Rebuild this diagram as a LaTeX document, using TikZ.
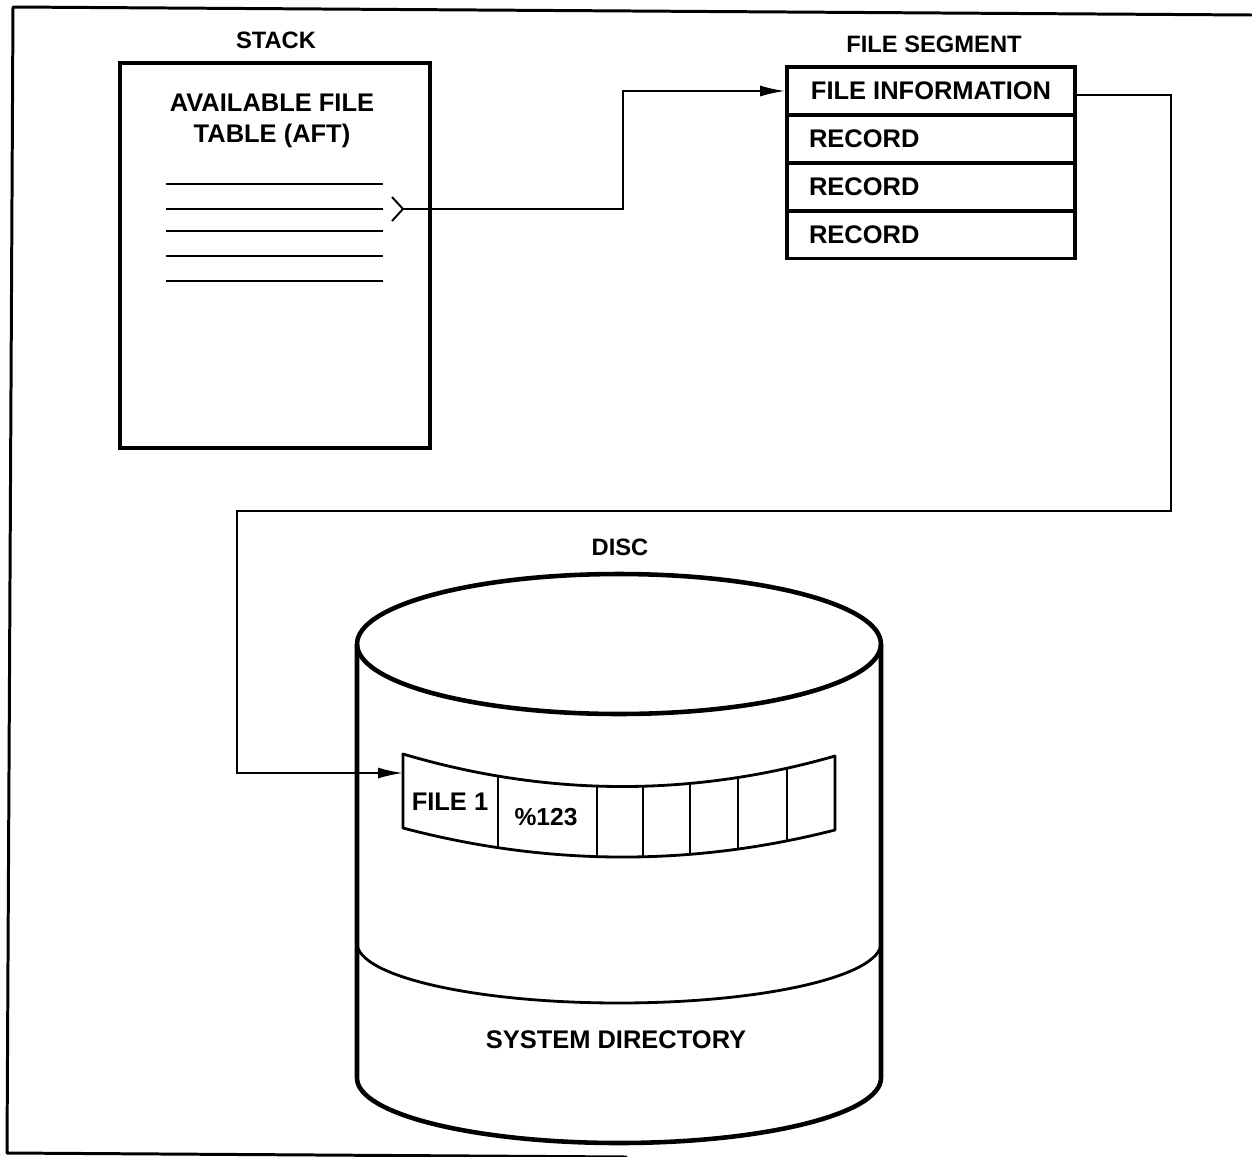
\documentclass[tikz,border=0pt]{standalone}
\usepackage{fontspec}
\setmainfont{Liberation Sans}
\usetikzlibrary{arrows.meta,calc}
\begin{document}
\begin{tikzpicture}[x=0.02cm,y=-0.02cm,
  lbl/.style={font=\fontsize{13.5}{15}\selectfont\bfseries, inner sep=0},
  boxtxt/.style={font=\fontsize{14.5}{16}\selectfont\bfseries, inner sep=0},
  frameline/.style={line width=1.7pt, line join=round},
  stackbox/.style={draw, line width=2.5pt, minimum width=6.2cm, minimum height=7.7cm, inner sep=0},
  segrow/.style={draw, line width=2.2pt, minimum width=5.76cm, minimum height=0.96cm, inner sep=0,
     font=\fontsize{14.5}{16}\selectfont\bfseries},
  conn/.style={line width=1.1pt},
  arr/.style={conn, -{Latex[length=0.5cm,width=0.22cm]}},
  aftline/.style={line width=1.4pt},
  cyl/.style={line width=2.6pt, line join=round},
  bandline/.style={line width=1.6pt, line join=round}
]
\useasboundingbox (0,0) rectangle (1252,1157);

% outer frame
\draw[frameline] (1252,15) -- (13,7) -- (7,1153) -- (627,1157);

% stack
\node[lbl] (stacklbl) at (276,40) {STACK};
\node[stackbox] (stack) at (275,255.5) {};
\node[boxtxt, align=center, font=\fontsize{14.5}{18}\selectfont\bfseries] (aft) at (272,121) {AVAILABLE FILE\\TABLE (AFT)};
\foreach \yy in {184,209,231,256,281} \draw[aftline] (166,\yy) -- (383,\yy);
\coordinate (aftp) at (403,209);
\draw[conn, line join=miter] (392,197) -- (aftp) -- (392,221);

% file segment
\node[lbl] (seglbl) at (934,44) {FILE SEGMENT};
\node[segrow, align=center] (fi) at (931,91) {FILE INFORMATION};
\node[segrow, align=left, text width=4.88cm] (r1) at (931,139) {RECORD};
\node[segrow, align=left, text width=4.88cm] (r2) at (931,187) {RECORD};
\node[segrow, align=left, text width=4.88cm] (r3) at (931,234.5) {RECORD};

% connector stack -> file segment
\coordinate (bend1) at (623,209);
\draw[arr] (aftp) -- (bend1) |- (fi.west);

% disc
\node[lbl] (disclbl) at (620,547) {DISC};
\draw[cyl] (619,644) ellipse [x radius=5.24cm, y radius=1.4cm];
\draw[cyl] (357,644) -- (357,1078)
   .. controls (357,1114) and (474.3,1143) .. (619,1143)
   .. controls (763.7,1143) and (881,1114) .. (881,1078) -- (881,644);
\draw[bandline] (357,943) .. controls (357,976.1) and (474.3,1003) .. (619,1003)
   .. controls (763.7,1003) and (881,976.1) .. (881,943);
\node[boxtxt] (sysdir) at (616,1040) {SYSTEM DIRECTORY};

% directory band
\draw[bandline] (403,754) .. controls (547,796.7) and (691,797.3) .. (835,756)
   -- (835,830) .. controls (691,866.7) and (547,866) .. (403,828) -- cycle;
\path (403,754) .. controls (547,796.7) and (691,797.3) .. (835,756)
   coordinate[pos=0.2199] (t1) coordinate[pos=0.449] (t2) coordinate[pos=0.5556] (t3)
   coordinate[pos=0.6644] (t4) coordinate[pos=0.7755] (t5) coordinate[pos=0.8889] (t6);
\path (403,828) .. controls (547,866) and (691,866.7) .. (835,830)
   coordinate[pos=0.2199] (b1) coordinate[pos=0.449] (b2) coordinate[pos=0.5556] (b3)
   coordinate[pos=0.6644] (b4) coordinate[pos=0.7755] (b5) coordinate[pos=0.8889] (b6);
\foreach \i in {1,...,6} \draw[bandline] (t\i) -- (b\i);
\node[boxtxt] (file1) at (450,802) {FILE 1};
\node[boxtxt, font=\fontsize{14}{15}\selectfont\bfseries] (pct) at (546,817) {\%123};
\coordinate (bandin) at (403,773);

% connector file segment -> disc
\coordinate (c1) at (1171,95);
\coordinate (c2) at (1171,511);
\coordinate (c3) at (237,511);
\coordinate (c4) at (237,773);
\draw[arr, line join=miter] ([yshift=-0.08cm]fi.east) -- (c1) -- (c2) -- (c3) -- (c4) -- (bandin);
\end{tikzpicture}
\end{document}
